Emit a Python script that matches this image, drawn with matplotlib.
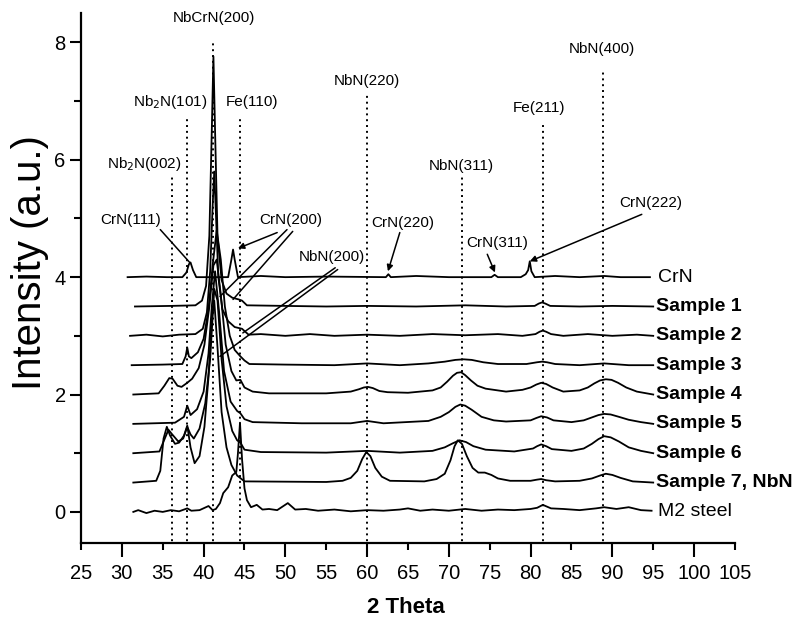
import matplotlib
matplotlib.use('Agg')
import matplotlib.pyplot as plt
from matplotlib.ticker import MultipleLocator, FixedLocator, NullFormatter

plt.rcParams['font.family'] = ['Liberation Sans', 'DejaVu Sans']

# XRD patterns (2 theta, intensity above the curve's own baseline)
crn_x = [30.7, 33.0, 35.5, 37.4, 37.9, 38.2, 38.4, 38.7, 39.1, 43.0, 43.4, 43.6, 43.8, 44.2, 47.0,
         50.0, 55.0, 62.3, 62.6, 62.9, 66.0, 70.0, 75.2, 75.6, 76.0, 78.8, 79.4, 79.7, 79.9, 80.1,
         80.5, 83.0, 86.0, 89.0, 91.0, 94.6]
crn_y = [0.0, 0.01, 0.0, 0.0, 0.08, 0.22, 0.25, 0.12, 0.0, 0.0, 0.3, 0.47, 0.3, 0.0, 0.02,
         0.0, 0.01, 0.0, 0.05, 0.0, 0.02, 0.0, 0.0, 0.04, 0.0, 0.0, 0.05, 0.12, 0.27, 0.1,
         0.0, 0.02, 0.0, 0.02, 0.0, 0.0]

s1_x = [31.6, 36.0, 39.0, 39.8, 40.3, 40.7, 41.0, 41.2, 41.4, 41.7, 42.2, 42.8, 43.5, 44.3, 44.7,
        45.3, 50.0, 55.0, 60.0, 66.0, 72.0, 77.0, 80.5, 81.0, 81.4, 81.8, 82.4, 86.0, 90.0, 95.0]
s1_y = [0.0, 0.01, 0.02, 0.1, 0.35, 1.2, 3.0, 4.26, 3.0, 1.2, 0.45, 0.22, 0.15, 0.12, 0.1,
        0.02, 0.01, 0.0, 0.01, 0.0, 0.02, 0.0, 0.01, 0.05, 0.07, 0.05, 0.01, 0.0, 0.01, 0.0]

s2_x = [31.0, 33.0, 35.0, 37.0, 39.0, 39.9, 40.4, 40.8, 41.1, 41.3, 41.5, 41.8, 42.3, 43.0, 43.8,
        44.7, 45.5, 47.0, 50.0, 53.0, 56.0, 60.0, 64.0, 68.0, 72.0, 76.0, 79.0, 80.6, 81.1, 81.5,
        81.9, 82.5, 84.0, 87.0, 90.0, 93.0, 95.0]
s2_y = [0.0, 0.02, -0.01, 0.02, 0.03, 0.12, 0.4, 1.1, 2.2, 2.8, 2.1, 1.0, 0.45, 0.25, 0.15,
        0.12, 0.02, 0.03, 0.0, 0.03, 0.0, 0.02, 0.0, 0.03, 0.01, 0.03, 0.0, 0.03, 0.07, 0.09,
        0.07, 0.03, 0.0, 0.03, 0.0, 0.02, 0.0]

s3_x = [31.2, 35.0, 37.4, 37.8, 38.0, 38.2, 38.5, 39.3, 40.0, 40.6, 41.1, 41.6, 42.1, 42.6, 43.2,
        43.8, 44.5, 45.0, 45.6, 50.0, 56.0, 60.0, 64.0, 67.5, 69.5, 70.8, 71.8, 72.8, 74.2, 76.0,
        79.5, 80.8, 81.4, 82.0, 83.0, 86.0, 89.0, 92.0, 95.0]
s3_y = [0.0, 0.01, 0.02, 0.15, 0.3, 0.15, 0.12, 0.22, 0.45, 0.95, 1.7, 2.3, 1.8, 1.0, 0.5,
        0.26, 0.15, 0.08, 0.02, 0.01, 0.0, 0.03, 0.0, 0.03, 0.06, 0.09, 0.1, 0.09, 0.05, 0.02,
        0.02, 0.05, 0.06, 0.05, 0.02, 0.0, 0.03, 0.0, 0.0]

s4_x = [31.4, 34.5, 35.2, 35.8, 36.2, 36.8, 37.3, 38.0, 38.6, 39.4, 40.1, 40.7, 41.2, 41.6, 42.1,
        42.7, 43.4, 44.0, 44.5, 45.0, 46.0, 48.0, 55.0, 58.0, 59.0, 59.6, 60.1, 60.7, 61.5, 62.5,
        65.0, 68.0, 69.0, 69.8, 70.5, 71.0, 71.5, 72.0, 72.7, 73.5, 74.5, 75.5, 77.0, 79.0, 80.0,
        80.7, 81.3, 81.9, 82.7, 84.0, 86.0, 87.0, 87.8, 88.5, 89.2, 89.9, 90.7, 91.7, 93.0, 95.0]
s4_y = [0.0, 0.02, 0.15, 0.28, 0.27, 0.15, 0.13, 0.2, 0.27, 0.45, 0.85, 1.5, 2.2, 2.3, 1.7,
        0.85, 0.4, 0.24, 0.25, 0.12, 0.05, 0.02, 0.02, 0.05, 0.09, 0.12, 0.13, 0.11, 0.06, 0.04,
        0.03, 0.07, 0.12, 0.22, 0.32, 0.37, 0.38, 0.33, 0.24, 0.15, 0.1, 0.08, 0.05, 0.08, 0.12,
        0.17, 0.2, 0.18, 0.12, 0.05, 0.07, 0.12, 0.19, 0.24, 0.26, 0.25, 0.2, 0.12, 0.05, 0.0]

s5_x = [31.4, 36.5, 37.6, 38.0, 38.4, 39.2, 40.0, 40.6, 41.0, 41.4, 41.9, 42.5, 43.3, 44.1, 44.5,
        45.0, 46.0, 52.0, 58.0, 60.0, 62.0, 67.5, 69.0, 70.0, 70.8, 71.4, 72.0, 72.8, 74.0, 75.5,
        77.0, 80.0, 80.7, 81.3, 82.0, 82.8, 85.0, 86.5, 87.5, 88.3, 89.0, 89.8, 90.8, 92.0, 93.5,
        95.0]
s5_y = [0.0, 0.02, 0.12, 0.31, 0.15, 0.25, 0.55, 1.2, 2.0, 2.6, 1.9, 0.9, 0.38, 0.22, 0.18,
        0.08, 0.03, 0.01, 0.01, 0.05, 0.01, 0.05, 0.12, 0.2, 0.29, 0.33, 0.31, 0.24, 0.12, 0.06,
        0.04, 0.06, 0.1, 0.13, 0.11, 0.06, 0.03, 0.06, 0.11, 0.15, 0.17, 0.16, 0.12, 0.07, 0.03,
        0.0]

s6_x = [31.4, 34.6, 35.1, 35.7, 36.1, 36.9, 37.5, 38.0, 38.4, 38.8, 39.5, 40.2, 40.8, 41.3, 41.7,
        42.2, 42.8, 43.5, 44.1, 44.5, 45.0, 47.0, 55.0, 60.0, 64.0, 68.0, 69.5, 70.5, 71.3, 72.1,
        73.0, 74.5, 78.0, 80.3, 80.8, 81.3, 81.9, 82.6, 85.0, 86.5, 87.5, 88.3, 89.0, 89.8, 90.8,
        92.0, 93.5, 95.0]
s6_y = [0.0, 0.03, 0.2, 0.4, 0.33, 0.2, 0.25, 0.45, 0.32, 0.25, 0.42, 0.85, 1.6, 2.8, 2.6,
        1.6, 0.8, 0.38, 0.22, 0.18, 0.06, 0.02, 0.01, 0.04, 0.01, 0.04, 0.1, 0.17, 0.22, 0.19,
        0.12, 0.06, 0.03, 0.08, 0.12, 0.15, 0.12, 0.07, 0.04, 0.08, 0.16, 0.24, 0.29, 0.27, 0.2,
        0.1, 0.04, 0.0]

s7_x = [31.4, 34.2, 34.7, 35.1, 35.5, 35.9, 36.5, 37.0, 37.6, 38.0, 38.4, 38.9, 39.5, 40.1, 40.6,
        41.0, 41.3, 41.7, 42.2, 42.8, 43.4, 44.1, 45.0, 55.0, 57.0, 58.0, 58.8, 59.4, 59.9, 60.4,
        61.0, 61.8, 62.8, 67.0, 68.5, 69.5, 70.2, 70.7, 71.1, 71.6, 72.2, 72.9, 73.6, 74.4, 75.2,
        76.0, 77.5, 80.0, 80.8, 81.3, 81.9, 83.0, 86.0, 87.5, 88.5, 89.2, 90.0, 91.0, 92.5, 95.0]
s7_y = [0.0, 0.03, 0.2, 0.75, 0.95, 0.8, 0.66, 0.68, 0.8, 0.97, 0.6, 0.33, 0.45, 0.95, 1.8,
        2.8, 3.1, 2.3, 1.2, 0.6, 0.3, 0.12, 0.02, 0.01, 0.03, 0.08, 0.2, 0.4, 0.52, 0.45,
        0.25, 0.1, 0.03, 0.02, 0.06, 0.15, 0.38, 0.62, 0.72, 0.66, 0.45, 0.25, 0.17, 0.17, 0.13,
        0.07, 0.03, 0.03, 0.05, 0.06, 0.04, 0.02, 0.03, 0.07, 0.12, 0.15, 0.13, 0.08, 0.02, 0.0]

m2_x = [31.4, 32.0, 33.0, 34.0, 35.0, 36.0, 37.0, 38.0, 38.5, 39.5, 40.6, 41.1, 41.5, 42.0, 42.4,
        43.0, 43.5, 44.0, 44.2, 44.45, 44.7, 45.0, 45.3, 45.8, 46.5, 47.2, 48.0, 49.0, 50.3, 51.2,
        52.5, 54.0, 56.0, 58.0, 60.0, 62.0, 64.0, 65.0, 66.5, 68.0, 70.0, 72.0, 74.0, 76.0, 78.0,
        80.0, 80.8, 81.5, 82.5, 84.0, 86.0, 88.0, 89.0, 90.5, 92.0, 93.5, 94.8]
m2_y = [0.0, 0.03, -0.02, 0.02, 0.0, 0.03, 0.01, 0.06, 0.02, 0.03, 0.1, 0.03, 0.05, 0.15, 0.32,
        0.42, 0.62, 0.68, 1.0, 1.52, 0.9, 0.4, 0.2, 0.08, 0.12, 0.04, 0.05, 0.03, 0.15, 0.04,
        0.05, 0.02, 0.04, 0.01, 0.03, 0.02, 0.04, 0.06, 0.02, 0.04, 0.02, 0.05, 0.02, 0.04, 0.03,
        0.05, 0.07, 0.12, 0.06, 0.05, 0.03, 0.06, 0.08, 0.05, 0.08, 0.03, 0.02]

curve_names = ['CrN', 'Sample 1', 'Sample 2', 'Sample 3', 'Sample 4',
               'Sample 5', 'Sample 6', 'Sample 7, NbN', 'M2 steel']
curve_offsets = [4.0, 3.5, 3.0, 2.5, 2.0, 1.5, 1.0, 0.5, 0.0]
curve_bold = [False, True, True, True, True, True, True, True, False]
curves_x = [crn_x, s1_x, s2_x, s3_x, s4_x, s5_x, s6_x, s7_x, m2_x]
curves_y = [crn_y, s1_y, s2_y, s3_y, s4_y, s5_y, s6_y, s7_y, m2_y]

# reference peak positions (dotted lines) and labels
ref_labels = ['Nb$_2$N(002)', 'Nb$_2$N(101)', 'NbCrN(200)', 'Fe(110)',
              'NbN(220)', 'NbN(311)', 'Fe(211)', 'NbN(400)']
ref_pos = [36.1, 38.0, 41.2, 44.5, 60.0, 71.6, 81.5, 88.9]
ref_top = [5.7, 6.72, 8.0, 6.74, 7.1, 5.7, 6.64, 7.5]
ref_label_xy = [(32.8, 5.92), (35.9, 6.98), (41.3, 8.41), (45.9, 6.98),
                (60.0, 7.34), (71.5, 5.90), (81.0, 6.89), (88.7, 7.88)]

# CrN peak labels with their pointer lines: text, text position, line starts, line ends, arrowhead
crn_labels = ['CrN(111)', 'CrN(200)', 'NbN(200)', 'CrN(220)', 'CrN(311)', 'CrN(222)']
crn_label_xy = [(31.1, 4.98), (50.6, 4.98), (55.7, 4.35), (64.4, 4.93), (75.9, 4.59), (94.7, 5.26)]
pointer_from = [[(34.7, 4.81)],
                [(49.0, 4.76), (50.2, 4.81), (50.9, 4.78)],
                [(56.4, 4.13), (56.1, 4.16)],
                [(64.0, 4.76)],
                [(74.7, 4.39)],
                [(93.6, 5.07)]]
pointer_to = [[(38.3, 4.25)],
              [(44.2, 4.49), (42.0, 3.67), (43.6, 3.62)],
              [(42.0, 2.65), (44.8, 3.05)],
              [(62.55, 4.10)],
              [(75.64, 4.08)],
              [(79.9, 4.27)]]
pointer_head = [[False], [True, False, False], [False, False], [True], [True], [True]]

fig = plt.figure(figsize=(7.98, 6.22), dpi=100)
ax = fig.add_axes([0.1015, 0.127, 0.8195, 0.852])

for xs, ys, off, name, bold in zip(curves_x, curves_y, curve_offsets, curve_names, curve_bold):
    ax.plot(xs, [v + off for v in ys], color='black', lw=1.3)
    ax.text(95.4 if bold else 95.6, off, name, fontsize=14, va='center', ha='left',
            fontweight='bold' if bold else 'normal', clip_on=False)

for pos, top in zip(ref_pos, ref_top):
    ax.plot([pos, pos], [-0.6, top], color='black', lw=1.4, ls=(0, (1, 2)))

for lab, (lx, ly) in zip(ref_labels, ref_label_xy):
    ax.text(lx, ly, lab, fontsize=11, ha='center', va='center')

for lab, (lx, ly), starts, ends, heads in zip(crn_labels, crn_label_xy, pointer_from,
                                              pointer_to, pointer_head):
    ax.text(lx, ly, lab, fontsize=11, ha='center', va='center')
    for st, en, hd in zip(starts, ends, heads):
        ax.annotate('', xy=en, xytext=st,
                    arrowprops=dict(arrowstyle='-|>' if hd else '-', color='black',
                                    lw=1.1, mutation_scale=9, shrinkA=0, shrinkB=0))

ax.set_xlim(25, 105)
ax.set_ylim(-0.53, 8.5)

ax.xaxis.set_major_locator(MultipleLocator(10))
ax.xaxis.set_minor_locator(FixedLocator([25, 35, 45, 55, 65, 75, 85, 95, 105]))
ax.xaxis.set_minor_formatter(lambda v, p: f'{v:.0f}')
ax.yaxis.set_major_locator(MultipleLocator(2))
ax.yaxis.set_minor_locator(MultipleLocator(1))
ax.yaxis.set_minor_formatter(NullFormatter())

ax.tick_params(axis='x', which='major', direction='out', length=10, width=1.5, pad=5, labelsize=14.5)
ax.tick_params(axis='x', which='minor', direction='out', length=5, width=1.5, pad=10, labelsize=14.5)
ax.tick_params(axis='y', which='major', direction='out', length=8, width=1.5, pad=3, labelsize=14.5)
ax.tick_params(axis='y', which='minor', direction='out', length=5, width=1.5)

for side in ['top', 'right']:
    ax.spines[side].set_visible(False)
for side in ['left', 'bottom']:
    ax.spines[side].set_linewidth(1.6)

ax.set_xlabel('2 Theta', fontsize=16, fontweight='bold')
ax.xaxis.label.set_va('center')
ax.xaxis.set_label_coords(0.497, -0.121)
ax.set_ylabel('Intensity (a.u.)', fontsize=29)
ax.yaxis.label.set_va('center')
ax.yaxis.set_label_coords(-0.078, 0.53)

fig.savefig('out.png', dpi=100)
